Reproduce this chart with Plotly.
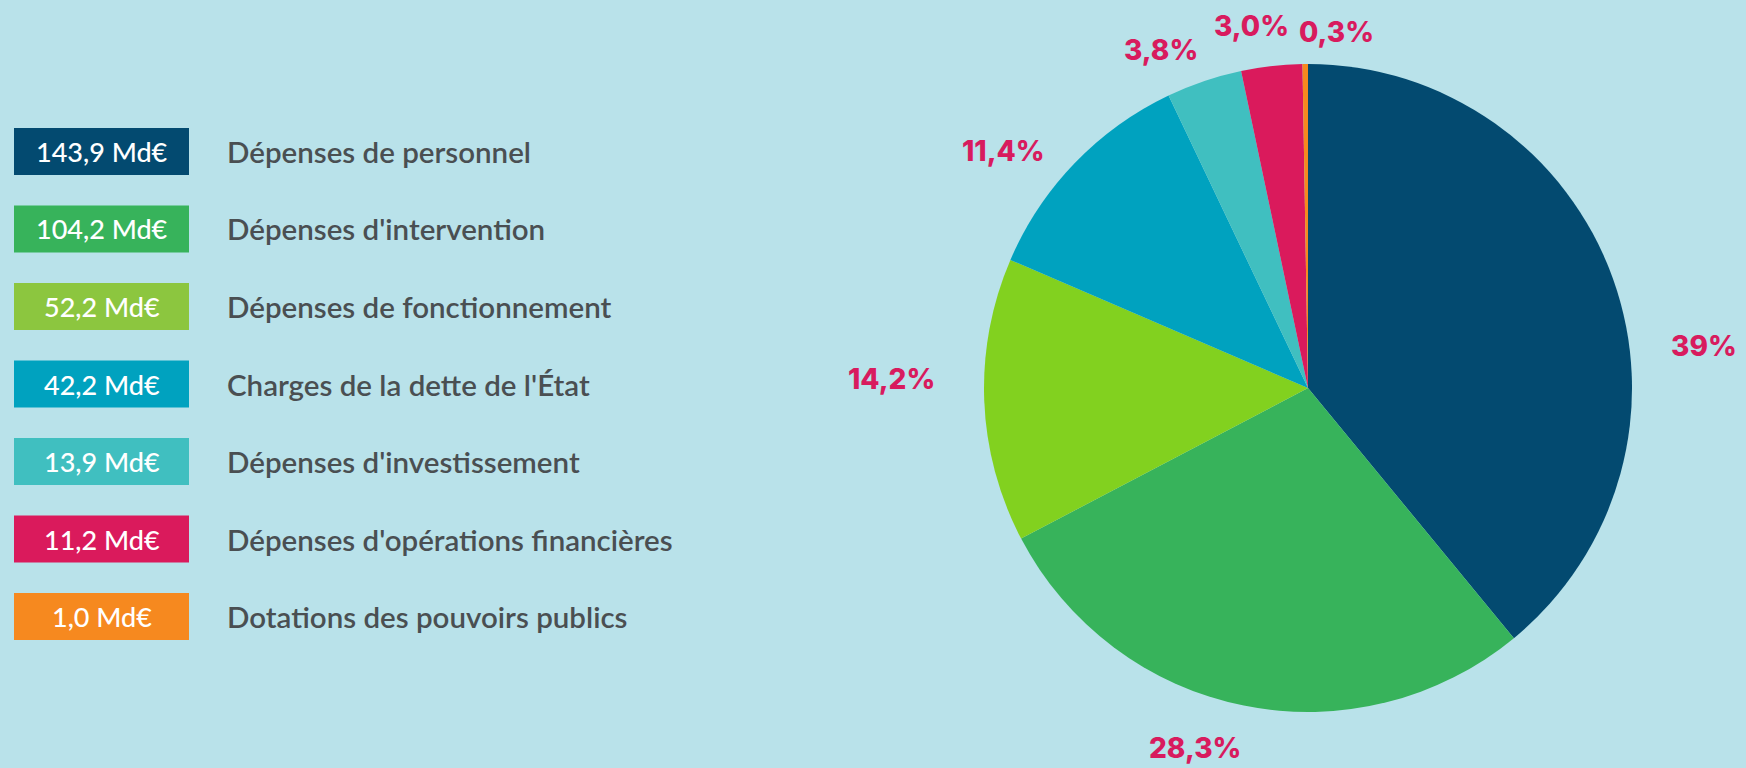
import plotly.graph_objects as go

# ---- data ----
categories = [
    "Dépenses de personnel",
    "Dépenses d'intervention",
    "Dépenses de fonctionnement",
    "Charges de la dette de l'État",
    "Dépenses d'investissement",
    "Dépenses d'opérations financières",
    "Dotations des pouvoirs publics",
]
values_mde = [143.9, 104.2, 52.2, 42.2, 13.9, 11.2, 1.0]
value_labels = ["143,9 Md€", "104,2 Md€", "52,2 Md€", "42,2 Md€", "13,9 Md€", "11,2 Md€", "1,0 Md€"]
pct_labels = ["39%", "28,3%", "14,2%", "11,4%", "3,8%", "3,0%", "0,3%"]

# ---- styles ----
slice_colors = ["#034a70", "#37b35b", "#82d11f", "#00a2bf", "#40bfc0", "#da1a5c", "#f6891f"]
legend_colors = ["#034a70", "#37b35b", "#8cc63f", "#00a2bf", "#40bfc0", "#da1a5c", "#f6891f"]
BG = "#b9e2ea"
W, H = 1746, 768

# pie geometry (pixels)
CX, CY, R = 1308, 388, 324
# percent label centres (pixels)
pct_pos = [(1704, 346), (1195, 748), (892, 379), (1004, 151), (1161, 50), (1251, 26), (1336, 32)]
# legend geometry (pixels)
box_x0, box_x1 = 14, 189
box_h = 47
row_y0, row_step = 151.5, 77.5
text_x = 225


def px(x):
    return x / W


def py(y):
    return 1 - y / H


fig = go.Figure()
fig.add_trace(go.Pie(
    labels=categories,
    values=values_mde,
    sort=False,
    direction="clockwise",
    rotation=0,
    marker=dict(colors=slice_colors, line=dict(width=0)),
    textinfo="none",
    hoverinfo="label+value+percent",
    showlegend=False,
    domain=dict(x=[px(CX - R), px(CX + R)], y=[py(CY + R), py(CY - R)]),
))

shapes = []
annotations = []
for i, (cat, vl, col) in enumerate(zip(categories, value_labels, legend_colors)):
    yc = row_y0 + i * row_step
    shapes.append(dict(type="rect", xref="paper", yref="paper",
                       x0=px(box_x0), x1=px(box_x1),
                       y0=py(yc + box_h / 2), y1=py(yc - box_h / 2),
                       fillcolor=col, line=dict(width=0), layer="above"))
    annotations.append(dict(xref="paper", yref="paper", x=px((box_x0 + box_x1) / 2), y=py(yc),
                            text=vl, showarrow=False, xanchor="center", yanchor="middle",
                            font=dict(family="Lato", size=27, color="white", weight=500)))
    annotations.append(dict(xref="paper", yref="paper", x=px(text_x), y=py(yc),
                            text=cat, showarrow=False, xanchor="left", yanchor="middle",
                            font=dict(family="Lato", size=29.5, color="#4a4f52", weight=600)))

for lab, (x, y) in zip(pct_labels, pct_pos):
    annotations.append(dict(xref="paper", yref="paper", x=px(x), y=py(y),
                            text=lab, showarrow=False, xanchor="center", yanchor="middle",
                            font=dict(family="Inter", size=28, color="#d81b5e", weight=800)))

fig.update_layout(
    width=W, height=H,
    margin=dict(l=0, r=0, t=0, b=0),
    paper_bgcolor=BG, plot_bgcolor=BG,
    shapes=shapes, annotations=annotations,
)

fig.write_html("out.html", config={"displayModeBar": False},
               post_script="document.body.style.margin='0';document.body.style.overflow='hidden';")
